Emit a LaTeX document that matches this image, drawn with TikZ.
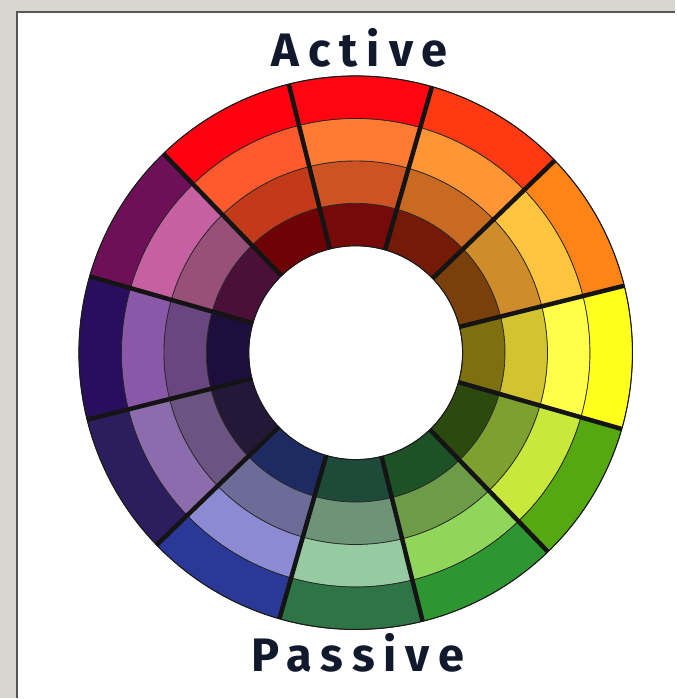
\documentclass[tikz,border=0pt]{standalone}
\usepackage{fontspec}
\setmainfont{Fira Sans}
\usepackage{tikz}
\usetikzlibrary{positioning}

\definecolor{framegray}{HTML}{D8D6CE}
\definecolor{paneledge}{HTML}{55555A}
\definecolor{labelnavy}{HTML}{111A2C}

\begin{document}
\begin{tikzpicture}[
  x=1pt, y=1pt,
  ringline/.style={draw=black!85, line width=0.7pt},
  segline/.style={draw=black!92, line width=4.5pt},
  rimline/.style={draw=black!90, line width=1pt},
  wheellabel/.style={font=\fontsize{47}{50}\selectfont\bfseries\addfontfeature{LetterSpace=19}, text=labelnavy, inner sep=0pt, anchor=base}
]
% frame and white panel
\fill[framegray] (-356,-346) rectangle (320,353);
\fill[white] (-339,-346) rectangle (320,341);
\draw[paneledge, line width=1.2pt] (-339,-346) -- (-339,341) -- (320,341);
\useasboundingbox (-356,-346) rectangle (320,353);

\coordinate (hub) at (0,0);

% twelve hues, colours listed inner to outer
\foreach \mid/\ci/\cii/\ciii/\civ in {
    89/76090A/CD5322/FF7A32/FF0512,
    59/761A08/C86A22/FF9535/FF3A12,
    29/7A400C/CF8C2A/FFC53E/FF8417,
    -1/7E7010/D2C42E/FFFF4A/FFFF1E,
   -31/2C4A0E/7EA02E/C8E83C/55A812,
   -61/1C5226/6C9C48/90D65A/2E9630,
   -91/1E4A3A/6E9478/96CAA0/2E7446,
  -121/1E2A62/6C6C98/8C8AD2/2A3898,
  -151/241838/6C5482/8C6CAC/2C1E5E,
   179/1E0E3E/6A4680/8A58A8/2A0E5E,
   149/4A1038/985078/C660A0/6E1058,
   119/6E0204/C23A1A/FF5A2E/FF0010} {
  \definecolor{ringi}{HTML}{\ci}
  \definecolor{ringii}{HTML}{\cii}
  \definecolor{ringiii}{HTML}{\ciii}
  \definecolor{ringiv}{HTML}{\civ}
  \pgfmathsetmacro\s{\mid-15}
  \pgfmathsetmacro\e{\mid+15}
  \foreach \rin/\rout/\col in {107/149.5/ringi, 149.5/192/ringii, 192/234.5/ringiii, 234.5/277/ringiv}
    \filldraw[ringline, fill=\col] (\s:\rin) arc[start angle=\s, end angle=\e, radius=\rin]
      -- (\e:\rout) arc[start angle=\e, end angle=\s, radius=\rout] -- cycle;
}

% thick borders between hues
\foreach \b in {14,44,...,344}
  \draw[segline] (\b:107) -- (\b:277);
\draw[rimline] (hub) circle[radius=277];
\draw[rimline] (hub) circle[radius=107];

\node[wheellabel] (active) at (4,286) {Active};
\node[wheellabel] (passive) at (2.5,-319) {Passive};
\end{tikzpicture}
\end{document}
